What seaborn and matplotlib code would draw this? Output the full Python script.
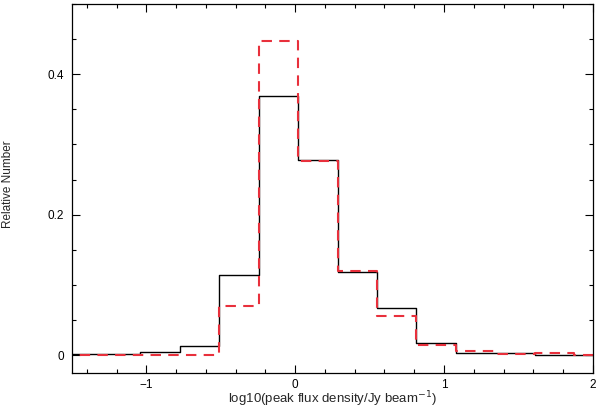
import matplotlib
matplotlib.use("Agg")
import matplotlib.pyplot as plt
import seaborn as sns
import numpy as np
from matplotlib.ticker import MultipleLocator, FixedLocator, FixedFormatter

# bin edges (log10 peak flux density) and relative numbers per bin
edges = [-1.57, -1.305, -1.04, -0.775, -0.51, -0.245, 0.02, 0.285,
         0.55, 0.815, 1.08, 1.345, 1.61, 1.875, 2.14]
black_heights = [0.0014, 0.0014, 0.0047, 0.0132, 0.114, 0.369, 0.2776,
                 0.119, 0.0674, 0.017, 0.0024, 0.0024, 0.0005, 0.0005]
red_heights = [0.0003, 0.0, 0.0, 0.0, 0.0697, 0.448, 0.277,
               0.12, 0.0555, 0.0147, 0.0057, 0.0012, 0.0024, 0.0]

centers = [(a + b) / 2 for a, b in zip(edges[:-1], edges[1:])]

sns.set_style("ticks")
plt.rcParams['font.family'] = ['Liberation Sans', 'DejaVu Sans']

fig = plt.figure(figsize=(6, 4.09), dpi=100)
ax = fig.add_axes([0.12, 0.088, 0.868, 0.902])

sns.histplot(x=centers, weights=black_heights, bins=edges, element="step",
             fill=False, color="black", linewidth=1.0, ax=ax)
sns.histplot(x=centers, weights=red_heights, bins=edges, element="step",
             fill=False, color="#e8303c", linewidth=1.5, ax=ax,
             linestyle=(0, (5, 3.5)))

ax.set_xlim(-1.5, 2)
ax.set_ylim(-0.0256, 0.5)

ax.xaxis.set_major_locator(FixedLocator([-1, 0, 1, 2]))
ax.xaxis.set_major_formatter(FixedFormatter(["\u22121", "0", "1", "2"]))
ax.xaxis.set_minor_locator(MultipleLocator(0.2))
ax.yaxis.set_major_locator(FixedLocator([0, 0.2, 0.4]))
ax.yaxis.set_major_formatter(FixedFormatter(["0", "0.2", "0.4"]))
ax.yaxis.set_minor_locator(MultipleLocator(0.05))

ax.tick_params(which="both", direction="in", top=True, right=True,
               labelsize=8.5, width=0.8, colors="black")
ax.tick_params(which="major", length=6, pad=6)
ax.tick_params(axis="x", which="major", pad=4.5)
ax.tick_params(which="minor", length=3)
for s in ax.spines.values():
    s.set_linewidth(0.9)
    s.set_color("black")

ax.set_xlabel("log10(peak flux density/Jy beam$^{-1}$)", fontsize=9.5, labelpad=-1)
ax.set_ylabel("Relative Number", fontsize=8.5)
ax.yaxis.set_label_coords(-0.111, 0.512)

fig.savefig("out.png", dpi=100)
